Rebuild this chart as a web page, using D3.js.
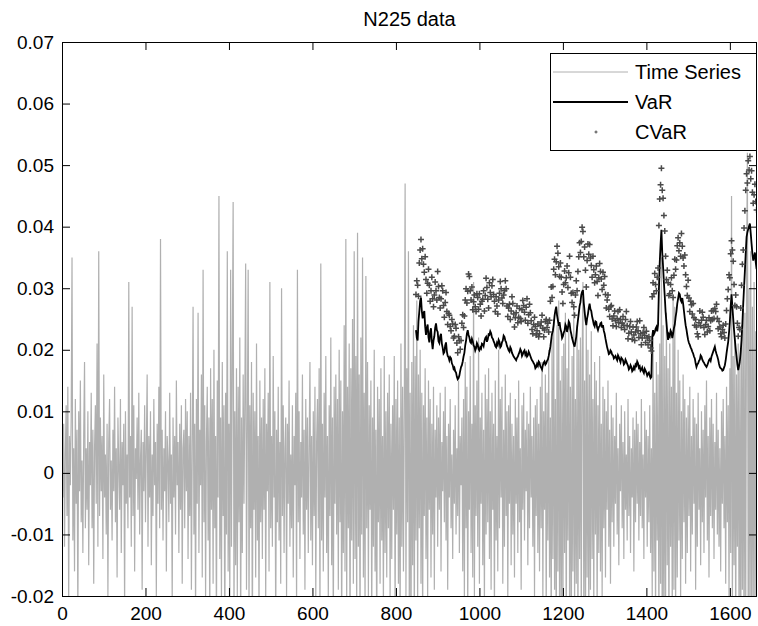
<!DOCTYPE html>
<html>
<head>
<meta charset="utf-8">
<script src="https://cdn.jsdelivr.net/npm/d3@7"></script>
<style>
  body { margin: 0; background: #fff; }
  svg { display: block; font-family: "Liberation Sans", Arial, sans-serif; }
</style>
</head>
<body>
<svg width="758" height="626"></svg>
<script>
// daily returns, sampled every 2nd day starting at day 0
let seriesStep = 2;
let timeSeries = [
  0.019, -0.004, 0.008, -0.012, 0.003, 0.011, -0.007, 0.014, -0.021, 0.006, -0.002, 0.009, 0.035, -0.011, 0.004, -0.016, 0.012, -0.005, 0.007, -0.024, 0.010, -0.003, 0.015, -0.008, 0.002, -0.013, 0.006, 0.018, -0.009, 0.004,
  -0.006, 0.010, -0.015, 0.005, -0.002, 0.013, -0.009, 0.007, -0.018, 0.004, 0.011, -0.005, 0.021, -0.012, 0.036, -0.007, 0.009, -0.003, 0.006, -0.014, 0.016, -0.004, 0.003, -0.010, 0.008, -0.020, 0.005, 0.012, -0.006, 0.002,
  -0.011, 0.007, -0.003, 0.014, -0.008, 0.004, -0.017, 0.009, 0.001, -0.006, 0.012, -0.013, 0.005, -0.002, 0.008, -0.022, 0.010, -0.005, 0.003, -0.009, 0.031, -0.004, 0.006, -0.012, 0.027, -0.007, 0.011, -0.016, 0.004, -0.001,
  0.009, -0.006, 0.013, -0.010, 0.002, 0.007, -0.019, 0.005, -0.003, 0.011, -0.008, 0.004, 0.016, -0.012, 0.006, -0.004, 0.010, -0.015, 0.003, -0.007, 0.012, -0.002, 0.005, -0.020, 0.008, -0.005, 0.014, -0.009, 0.038, -0.006,
  0.007, -0.011, 0.004, -0.003, 0.010, -0.016, 0.006, 0.002, -0.008, 0.013, -0.005, 0.003, -0.021, 0.009, -0.004, 0.006, -0.010, 0.015, -0.002, 0.005, -0.013, 0.008, -0.006, 0.011, -0.018, 0.004, 0.007, -0.009, 0.012, -0.003,
  0.010, -0.014, 0.006, -0.007, 0.013, -0.019, 0.004, 0.027, -0.010, 0.008, -0.023, 0.012, -0.005, 0.026, -0.013, 0.007, -0.002, 0.016, -0.017, 0.033, -0.008, 0.011, -0.020, 0.005, 0.014, -0.011, 0.009, -0.025, 0.017, -0.006,
  0.012, -0.018, 0.020, -0.009, 0.006, -0.026, 0.015, -0.004, 0.045, -0.014, 0.009, -0.021, 0.018, -0.007, 0.011, -0.029, 0.013, -0.010, 0.036, -0.016, 0.008, -0.022, 0.033, -0.012, 0.019, 0.044, -0.024, 0.010, -0.015, 0.017,
  -0.020, 0.014, -0.008, 0.022, -0.027, 0.009, -0.013, 0.016, -0.005, 0.012, 0.034, -0.019, 0.007, 0.033, -0.023, 0.011, -0.009, 0.018, -0.030, 0.013, -0.006, 0.010, -0.017, 0.021, -0.011, 0.006, -0.024, 0.015, -0.008, 0.009,
  -0.014, 0.012, -0.006, 0.017, -0.021, 0.008, -0.003, 0.013, -0.016, 0.031, -0.009, 0.006, -0.012, 0.019, -0.004, 0.010, -0.025, 0.007, -0.008, 0.014, -0.011, 0.005, -0.018, 0.030, -0.007, 0.011, -0.013, 0.004, 0.009, -0.020,
  0.008, -0.005, 0.015, -0.012, 0.003, -0.009, 0.011, -0.017, 0.006, -0.002, 0.013, -0.022, 0.033, -0.008, 0.010, -0.014, 0.005, -0.004, 0.016, -0.010, 0.007, -0.019, 0.012, -0.006, 0.009, -0.013, 0.004, 0.018, -0.011, 0.006,
  -0.015, 0.010, -0.007, 0.014, -0.020, 0.005, 0.012, -0.009, 0.017, -0.024, 0.034, -0.011, 0.008, -0.016, 0.013, -0.004, 0.019, -0.013, 0.006, -0.021, 0.011, -0.007, 0.022, -0.015, 0.009, -0.026, 0.014, -0.005, 0.016, -0.010,
  0.012, -0.019, 0.020, -0.008, 0.015, -0.027, 0.010, -0.013, 0.024, -0.016, 0.038, -0.022, 0.014, -0.009, 0.021, -0.030, 0.017, -0.011, 0.025, -0.018, 0.036, -0.014, 0.019, -0.024, 0.039, -0.012, 0.016, -0.028, 0.022, -0.010,
  0.035, -0.017, 0.013, -0.023, 0.032, -0.009, 0.018, -0.020, 0.011, -0.006, 0.015, -0.025, 0.009, -0.012, 0.020, -0.016, 0.007, -0.029, 0.014, -0.008, 0.012, -0.018, 0.017, -0.011, 0.006, -0.022, 0.019, -0.013, 0.010, -0.017,
  0.013, -0.009, 0.016, -0.021, 0.008, -0.014, 0.011, -0.006, 0.019, -0.024, 0.012, -0.010, 0.015, -0.018, 0.009, -0.027, 0.021, -0.012, 0.014, -0.016, 0.010, 0.047, -0.020, 0.017, -0.008, 0.036, -0.023, 0.013, -0.031, 0.018,
  -0.015, 0.024, -0.026, 0.019, -0.011, 0.028, -0.022, 0.016, -0.009, 0.020, -0.018, 0.013, -0.025, 0.011, -0.007, 0.017, -0.014, 0.009, -0.021, 0.015, -0.006, 0.012, -0.017, 0.008, -0.010, 0.014, -0.019, 0.007, -0.004, 0.011,
  -0.012, 0.009, -0.006, 0.013, -0.016, 0.005, -0.003, 0.010, -0.008, 0.014, -0.011, 0.006, -0.019, 0.008, -0.004, 0.012, -0.009, 0.003, -0.014, 0.007, -0.005, 0.011, -0.010, 0.004, -0.007, 0.015, -0.013, 0.006, -0.002, 0.009,
  -0.016, 0.012, -0.021, 0.018, -0.009, 0.014, -0.024, 0.010, -0.006, 0.019, -0.013, 0.008, -0.017, 0.031, -0.020, 0.011, -0.007, 0.015, -0.012, 0.022, -0.018, 0.009, -0.005, 0.013, -0.015, 0.007, -0.022, 0.016, -0.010, 0.012,
  -0.008, 0.017, -0.014, 0.010, -0.019, 0.013, -0.006, 0.008, -0.023, 0.015, -0.011, 0.006, -0.016, 0.020, -0.009, 0.012, -0.004, 0.014, -0.018, 0.007, -0.012, 0.016, -0.007, 0.010, -0.021, 0.011, -0.005, 0.013, -0.015, 0.008,
  -0.010, 0.006, -0.017, 0.012, -0.005, 0.009, -0.013, 0.015, -0.008, 0.004, -0.019, 0.011, -0.006, 0.013, -0.011, 0.007, -0.003, 0.010, -0.015, 0.008, -0.009, 0.014, -0.004, 0.006, -0.012, 0.009, -0.020, 0.011, -0.007, 0.012,
  -0.013, 0.008, -0.016, 0.014, -0.009, 0.018, -0.021, 0.010, -0.006, 0.016, -0.024, 0.013, -0.011, 0.020, -0.017, 0.009, -0.027, 0.022, -0.014, 0.025, -0.019, 0.012, -0.030, 0.024, -0.016, 0.028, -0.022, 0.015, -0.026, 0.019,
  -0.024, 0.021, -0.013, 0.026, -0.029, 0.017, -0.011, 0.023, -0.020, 0.014, -0.032, 0.019, -0.016, 0.027, -0.023, 0.012, -0.018, 0.024, -0.028, 0.020, -0.014, 0.022, -0.025, 0.018, 0.031, -0.021, 0.015, -0.030, 0.025, -0.017,
  0.020, -0.026, 0.016, -0.019, 0.023, -0.014, 0.012, -0.022, 0.018, -0.010, 0.015, -0.024, 0.011, -0.013, 0.019, -0.016, 0.008, -0.020, 0.014, -0.009, 0.012, -0.017, 0.010, -0.006, 0.015, -0.012, 0.007, -0.018, 0.011, -0.008,
  0.009, -0.012, 0.006, -0.005, 0.013, -0.010, 0.004, -0.015, 0.008, -0.003, 0.011, -0.009, 0.005, -0.014, 0.010, -0.006, 0.003, -0.011, 0.012, -0.007, 0.006, -0.013, 0.004, -0.004, 0.009, -0.016, 0.007, -0.008, 0.010, -0.005,
  0.008, -0.011, 0.005, -0.007, 0.012, -0.009, 0.003, -0.014, 0.010, -0.004, 0.007, -0.012, 0.006, -0.008, 0.011, -0.013, 0.004, -0.020, 0.022, -0.016, 0.013, -0.024, 0.018, -0.011, 0.016, -0.027, 0.021, -0.018, 0.035, -0.034,
  0.024, -0.028, 0.019, -0.022, 0.026, -0.015, 0.017, -0.030, 0.021, -0.012, 0.014, -0.025, 0.029, -0.019, 0.027, -0.023, 0.013, -0.017, 0.020, -0.011, 0.015, -0.021, 0.010, -0.014, 0.016, -0.008, 0.012, -0.018, 0.009, -0.013,
  0.011, -0.007, 0.014, -0.016, 0.006, -0.010, 0.012, -0.005, 0.009, -0.019, 0.008, -0.012, 0.013, -0.006, 0.004, -0.015, 0.010, -0.008, 0.007, -0.013, 0.011, -0.004, 0.015, -0.011, 0.006, -0.017, 0.009, -0.007, 0.012, -0.009,
  0.008, -0.014, 0.005, -0.006, 0.013, -0.010, 0.007, -0.012, 0.004, -0.016, 0.010, -0.005, 0.012, -0.009, 0.006, -0.018, 0.014, -0.008, 0.011, -0.021, 0.017, -0.013, 0.045, -0.025, 0.019, -0.015, 0.022, -0.028, 0.016, -0.012,
  0.021, -0.027, 0.018, -0.031, 0.024, -0.019, 0.028, -0.034, 0.026, -0.022, 0.033, 0.052, -0.029, 0.030, -0.025, 0.036, -0.033, 0.027, -0.021, 0.031, -0.026, 0.023, -0.030, 0.025
];

// VaR / CVaR estimates, every 2nd day from day 848
let riskStart = 848;
let riskStep = 2;
let varValues = [
  0.0232, 0.0219, 0.0215, 0.0246, 0.0262, 0.0279, 0.0285, 0.0263, 0.0251, 0.0259, 0.0263, 0.0238, 0.0224, 0.0236, 0.0241, 0.0220, 0.0212, 0.0229, 0.0235, 0.0213, 0.0201, 0.0215, 0.0222, 0.0236, 0.0243, 0.0232, 0.0229, 0.0214, 0.0211, 0.0222, 0.0226, 0.0210, 0.0203, 0.0194, 0.0196, 0.0207, 0.0212, 0.0197, 0.0190, 0.0188,
  0.0183, 0.0188, 0.0186, 0.0178, 0.0175, 0.0169, 0.0171, 0.0165, 0.0163, 0.0156, 0.0152, 0.0154, 0.0158, 0.0166, 0.0172, 0.0175, 0.0181, 0.0189, 0.0195, 0.0207, 0.0215, 0.0226, 0.0232, 0.0224, 0.0220, 0.0213, 0.0211, 0.0218, 0.0214, 0.0207, 0.0205, 0.0199, 0.0203, 0.0211, 0.0208, 0.0201, 0.0199, 0.0204, 0.0202, 0.0210,
  0.0209, 0.0206, 0.0214, 0.0219, 0.0221, 0.0213, 0.0217, 0.0225, 0.0224, 0.0230, 0.0227, 0.0220, 0.0218, 0.0214, 0.0211, 0.0206, 0.0204, 0.0211, 0.0208, 0.0216, 0.0213, 0.0204, 0.0206, 0.0212, 0.0215, 0.0223, 0.0221, 0.0215, 0.0212, 0.0206, 0.0203, 0.0199, 0.0197, 0.0204, 0.0201, 0.0195, 0.0192, 0.0189, 0.0187, 0.0185,
  0.0183, 0.0187, 0.0189, 0.0193, 0.0196, 0.0201, 0.0198, 0.0190, 0.0193, 0.0197, 0.0199, 0.0192, 0.0195, 0.0189, 0.0191, 0.0197, 0.0194, 0.0190, 0.0186, 0.0183, 0.0181, 0.0178, 0.0176, 0.0170, 0.0172, 0.0177, 0.0174, 0.0181, 0.0179, 0.0173, 0.0171, 0.0168, 0.0175, 0.0179, 0.0181, 0.0176, 0.0178, 0.0182, 0.0184, 0.0190,
  0.0197, 0.0205, 0.0216, 0.0226, 0.0231, 0.0241, 0.0255, 0.0264, 0.0270, 0.0256, 0.0248, 0.0239, 0.0245, 0.0234, 0.0229, 0.0219, 0.0222, 0.0228, 0.0231, 0.0241, 0.0238, 0.0229, 0.0235, 0.0246, 0.0243, 0.0232, 0.0226, 0.0219, 0.0214, 0.0209, 0.0205, 0.0213, 0.0221, 0.0236, 0.0248, 0.0259, 0.0271, 0.0277, 0.0289, 0.0294,
  0.0297, 0.0276, 0.0262, 0.0249, 0.0240, 0.0251, 0.0258, 0.0268, 0.0275, 0.0266, 0.0263, 0.0254, 0.0248, 0.0241, 0.0238, 0.0246, 0.0245, 0.0236, 0.0232, 0.0237, 0.0238, 0.0243, 0.0244, 0.0236, 0.0240, 0.0231, 0.0226, 0.0218, 0.0211, 0.0204, 0.0199, 0.0193, 0.0194, 0.0199, 0.0197, 0.0192, 0.0191, 0.0186, 0.0188, 0.0190,
  0.0186, 0.0183, 0.0191, 0.0188, 0.0184, 0.0180, 0.0187, 0.0185, 0.0183, 0.0176, 0.0178, 0.0184, 0.0181, 0.0177, 0.0174, 0.0168, 0.0170, 0.0175, 0.0172, 0.0165, 0.0167, 0.0172, 0.0169, 0.0176, 0.0174, 0.0181, 0.0178, 0.0171, 0.0173, 0.0166, 0.0168, 0.0171, 0.0165, 0.0162, 0.0169, 0.0166, 0.0163, 0.0158, 0.0161, 0.0163,
  0.0158, 0.0154, 0.0156, 0.0221, 0.0232, 0.0225, 0.0228, 0.0234, 0.0237, 0.0230, 0.0241, 0.0297, 0.0342, 0.0371, 0.0395, 0.0358, 0.0335, 0.0309, 0.0287, 0.0262, 0.0245, 0.0228, 0.0216, 0.0225, 0.0222, 0.0231, 0.0228, 0.0219, 0.0226, 0.0235, 0.0241, 0.0253, 0.0262, 0.0275, 0.0283, 0.0292, 0.0290, 0.0281, 0.0278, 0.0284,
  0.0275, 0.0263, 0.0251, 0.0240, 0.0233, 0.0224, 0.0216, 0.0211, 0.0208, 0.0204, 0.0201, 0.0197, 0.0194, 0.0189, 0.0186, 0.0178, 0.0172, 0.0176, 0.0178, 0.0182, 0.0184, 0.0191, 0.0189, 0.0184, 0.0181, 0.0179, 0.0176, 0.0174, 0.0172, 0.0175, 0.0179, 0.0183, 0.0185, 0.0182, 0.0189, 0.0193, 0.0197, 0.0201, 0.0205, 0.0198,
  0.0193, 0.0189, 0.0184, 0.0177, 0.0172, 0.0170, 0.0169, 0.0166, 0.0167, 0.0171, 0.0175, 0.0183, 0.0194, 0.0204, 0.0213, 0.0228, 0.0246, 0.0271, 0.0290, 0.0270, 0.0251, 0.0232, 0.0216, 0.0201, 0.0189, 0.0176, 0.0167, 0.0174, 0.0182, 0.0197, 0.0216, 0.0243, 0.0274, 0.0302, 0.0328, 0.0357, 0.0383, 0.0391, 0.0396, 0.0401,
  0.0405, 0.0389, 0.0372, 0.0356, 0.0345, 0.0351, 0.0358, 0.0342, 0.0331
];
let cvarValues = [
  0.0290, 0.0312, 0.0305, 0.0287, 0.0341, 0.0362, 0.0379, 0.0348, 0.0364, 0.0339, 0.0326, 0.0351, 0.0314, 0.0292, 0.0308, 0.0331, 0.0305, 0.0279, 0.0296, 0.0318, 0.0283, 0.0270, 0.0289, 0.0310, 0.0296, 0.0281, 0.0327, 0.0303, 0.0285, 0.0268, 0.0283, 0.0304, 0.0296, 0.0272, 0.0253, 0.0277, 0.0293, 0.0262, 0.0241, 0.0259,
  0.0256, 0.0238, 0.0231, 0.0249, 0.0242, 0.0219, 0.0222, 0.0241, 0.0235, 0.0211, 0.0195, 0.0221, 0.0215, 0.0201, 0.0215, 0.0243, 0.0257, 0.0236, 0.0255, 0.0281, 0.0299, 0.0276, 0.0295, 0.0323, 0.0319, 0.0296, 0.0281, 0.0302, 0.0265, 0.0278, 0.0289, 0.0270, 0.0262, 0.0291, 0.0285, 0.0266, 0.0291, 0.0274, 0.0255, 0.0279,
  0.0282, 0.0296, 0.0263, 0.0288, 0.0316, 0.0301, 0.0282, 0.0268, 0.0309, 0.0293, 0.0286, 0.0304, 0.0314, 0.0290, 0.0279, 0.0262, 0.0286, 0.0271, 0.0258, 0.0281, 0.0292, 0.0311, 0.0299, 0.0284, 0.0275, 0.0289, 0.0296, 0.0312, 0.0299, 0.0271, 0.0254, 0.0268, 0.0274, 0.0249, 0.0263, 0.0286, 0.0275, 0.0258, 0.0237, 0.0252,
  0.0260, 0.0271, 0.0244, 0.0253, 0.0267, 0.0251, 0.0246, 0.0265, 0.0280, 0.0272, 0.0261, 0.0248, 0.0269, 0.0283, 0.0243, 0.0257, 0.0274, 0.0260, 0.0247, 0.0233, 0.0226, 0.0241, 0.0253, 0.0238, 0.0224, 0.0231, 0.0242, 0.0221, 0.0226, 0.0239, 0.0245, 0.0256, 0.0235, 0.0221, 0.0232, 0.0246, 0.0249, 0.0236, 0.0243, 0.0229,
  0.0248, 0.0279, 0.0302, 0.0285, 0.0303, 0.0331, 0.0347, 0.0322, 0.0343, 0.0368, 0.0357, 0.0335, 0.0319, 0.0341, 0.0318, 0.0294, 0.0275, 0.0306, 0.0328, 0.0309, 0.0317, 0.0336, 0.0301, 0.0325, 0.0352, 0.0318, 0.0292, 0.0277, 0.0293, 0.0270, 0.0256, 0.0289, 0.0312, 0.0296, 0.0327, 0.0351, 0.0374, 0.0358, 0.0376, 0.0399,
  0.0392, 0.0351, 0.0367, 0.0329, 0.0302, 0.0345, 0.0372, 0.0355, 0.0371, 0.0349, 0.0337, 0.0318, 0.0352, 0.0330, 0.0309, 0.0322, 0.0336, 0.0311, 0.0288, 0.0317, 0.0340, 0.0327, 0.0315, 0.0298, 0.0326, 0.0305, 0.0319, 0.0290, 0.0268, 0.0281, 0.0289, 0.0266, 0.0254, 0.0270, 0.0272, 0.0250, 0.0239, 0.0255, 0.0263, 0.0247,
  0.0238, 0.0251, 0.0262, 0.0244, 0.0265, 0.0249, 0.0236, 0.0243, 0.0254, 0.0240, 0.0233, 0.0249, 0.0262, 0.0239, 0.0218, 0.0227, 0.0238, 0.0246, 0.0229, 0.0217, 0.0237, 0.0224, 0.0215, 0.0229, 0.0237, 0.0246, 0.0231, 0.0220, 0.0247, 0.0226, 0.0208, 0.0219, 0.0228, 0.0236, 0.0223, 0.0212, 0.0230, 0.0219, 0.0208, 0.0221,
  0.0215, 0.0203, 0.0198, 0.0286, 0.0309, 0.0291, 0.0324, 0.0306, 0.0296, 0.0318, 0.0333, 0.0402, 0.0445, 0.0468, 0.0495, 0.0459, 0.0446, 0.0418, 0.0393, 0.0352, 0.0314, 0.0329, 0.0309, 0.0288, 0.0291, 0.0306, 0.0317, 0.0296, 0.0285, 0.0321, 0.0347, 0.0331, 0.0346, 0.0369, 0.0382, 0.0361, 0.0374, 0.0352, 0.0389, 0.0368,
  0.0349, 0.0336, 0.0354, 0.0322, 0.0303, 0.0288, 0.0313, 0.0284, 0.0262, 0.0279, 0.0273, 0.0258, 0.0275, 0.0252, 0.0240, 0.0249, 0.0237, 0.0226, 0.0221, 0.0244, 0.0263, 0.0239, 0.0248, 0.0261, 0.0253, 0.0236, 0.0225, 0.0241, 0.0248, 0.0229, 0.0238, 0.0252, 0.0231, 0.0247, 0.0263, 0.0249, 0.0264, 0.0251, 0.0267, 0.0262,
  0.0274, 0.0251, 0.0234, 0.0246, 0.0237, 0.0226, 0.0221, 0.0233, 0.0240, 0.0228, 0.0219, 0.0242, 0.0264, 0.0283, 0.0298, 0.0322, 0.0317, 0.0356, 0.0377, 0.0362, 0.0344, 0.0306, 0.0272, 0.0289, 0.0270, 0.0243, 0.0222, 0.0236, 0.0233, 0.0268, 0.0305, 0.0339, 0.0362, 0.0398, 0.0426, 0.0459, 0.0486, 0.0471, 0.0507, 0.0492,
  0.0514, 0.0478, 0.0491, 0.0456, 0.0438, 0.0452, 0.0469, 0.0441, 0.0427
];

let xTicks = [0, 200, 400, 600, 800, 1000, 1200, 1400, 1600];
let yTicks = [-0.02, -0.01, 0, 0.01, 0.02, 0.03, 0.04, 0.05, 0.06, 0.07];
let legendLabels = ['Time Series', 'VaR', 'CVaR'];

let svg = d3.select('svg');
let plotLeft = 62, plotRight = 757, plotTop = 42, plotBottom = 596;

let x = d3.scaleLinear()
    .domain([0, 1665])
    .range([plotLeft, plotRight]);

let y = d3.scaleLinear()
    .domain([-0.02, 0.07])
    .range([plotBottom, plotTop]);

svg.append('clipPath').attr('id', 'plot-clip')
  .append('rect')
    .attr('x', plotLeft).attr('y', plotTop)
    .attr('width', plotRight - plotLeft).attr('height', plotBottom - plotTop);

let plot = svg.append('g').attr('clip-path', 'url(#plot-clip)');

let tsLine = d3.line()
    .x((_, i) => x(i * seriesStep))
    .y(d => y(d));

plot.append('path')
    .attr('d', tsLine(timeSeries))
    .attr('fill', 'none')
    .attr('stroke', '#b0b0b0')
    .attr('stroke-width', 1.2);

let riskLine = d3.line()
    .x((_, i) => x(riskStart + i * riskStep))
    .y(d => y(d));

plot.append('path')
    .attr('d', riskLine(varValues))
    .attr('fill', 'none')
    .attr('stroke', '#000')
    .attr('stroke-width', 1.8);

let plus = 'M-3,0H3M0,-3V3';
plot.append('g').selectAll('path')
    .data(cvarValues)
    .enter().append('path')
    .attr('transform', (d, i) => `translate(${x(riskStart + i * riskStep)},${y(d)})`)
    .attr('d', plus)
    .attr('stroke', '#4a4a4a')
    .attr('stroke-width', 1.5);

// axes, MATLAB style: inward ticks on all four sides
let fmtY = d => d === 0 ? '0' : String(+d.toFixed(2));

svg.append('g')
    .attr('transform', `translate(0,${plotBottom})`)
    .call(d3.axisBottom(x).tickValues(xTicks).tickFormat(d3.format('d')).tickSize(-8).tickSizeOuter(0).tickPadding(11));
svg.append('g')
    .attr('transform', `translate(${plotLeft},0)`)
    .call(d3.axisLeft(y).tickValues(yTicks).tickFormat(fmtY).tickSize(-8).tickSizeOuter(0).tickPadding(8));
svg.append('g')
    .attr('transform', `translate(0,${plotTop})`)
    .call(d3.axisTop(x).tickValues(xTicks).tickFormat('').tickSize(-8).tickSizeOuter(0));
svg.append('g')
    .attr('transform', `translate(${plotRight},0)`)
    .call(d3.axisRight(y).tickValues(yTicks).tickFormat('').tickSize(-8).tickSizeOuter(0));

svg.selectAll('.domain').remove();
svg.selectAll('.tick line').attr('stroke', '#000');
svg.selectAll('.tick text')
    .attr('fill', '#000')
    .style('font-size', '19px')
    .style('font-family', '"Liberation Sans", Arial, sans-serif');

svg.append('rect')
    .attr('x', plotLeft + 0.5).attr('y', plotTop + 0.5)
    .attr('width', plotRight - plotLeft - 1).attr('height', plotBottom - plotTop)
    .attr('fill', 'none')
    .attr('stroke', '#000');

svg.append('text')
    .attr('x', (plotLeft + plotRight) / 2)
    .attr('y', 26)
    .attr('text-anchor', 'middle')
    .style('font-size', '20px')
    .text('N225 data');

// legend
let lg = svg.append('g');
lg.append('rect')
    .attr('x', 550.5).attr('y', 53.5)
    .attr('width', 206).attr('height', 97)
    .attr('fill', '#fff')
    .attr('stroke', '#000');

let rowY = [72, 102, 132];
lg.append('line')
    .attr('x1', 553).attr('x2', 628).attr('y1', rowY[0]).attr('y2', rowY[0])
    .attr('stroke', '#b0b0b0');
lg.append('line')
    .attr('x1', 553).attr('x2', 628).attr('y1', rowY[1]).attr('y2', rowY[1])
    .attr('stroke', '#000').attr('stroke-width', 1.8);
lg.append('path')
    .attr('transform', `translate(596,${rowY[2]})`)
    .attr('d', 'M-1.5,0H1.5M0,-1.5V1.5')
    .attr('stroke', '#4a4a4a');

lg.selectAll('text')
    .data(legendLabels)
    .enter().append('text')
    .attr('x', 635)
    .attr('y', (_, i) => rowY[i])
    .attr('dy', '0.35em')
    .style('font-size', '20px')
    .text(d => d);
</script>
</body>
</html>
